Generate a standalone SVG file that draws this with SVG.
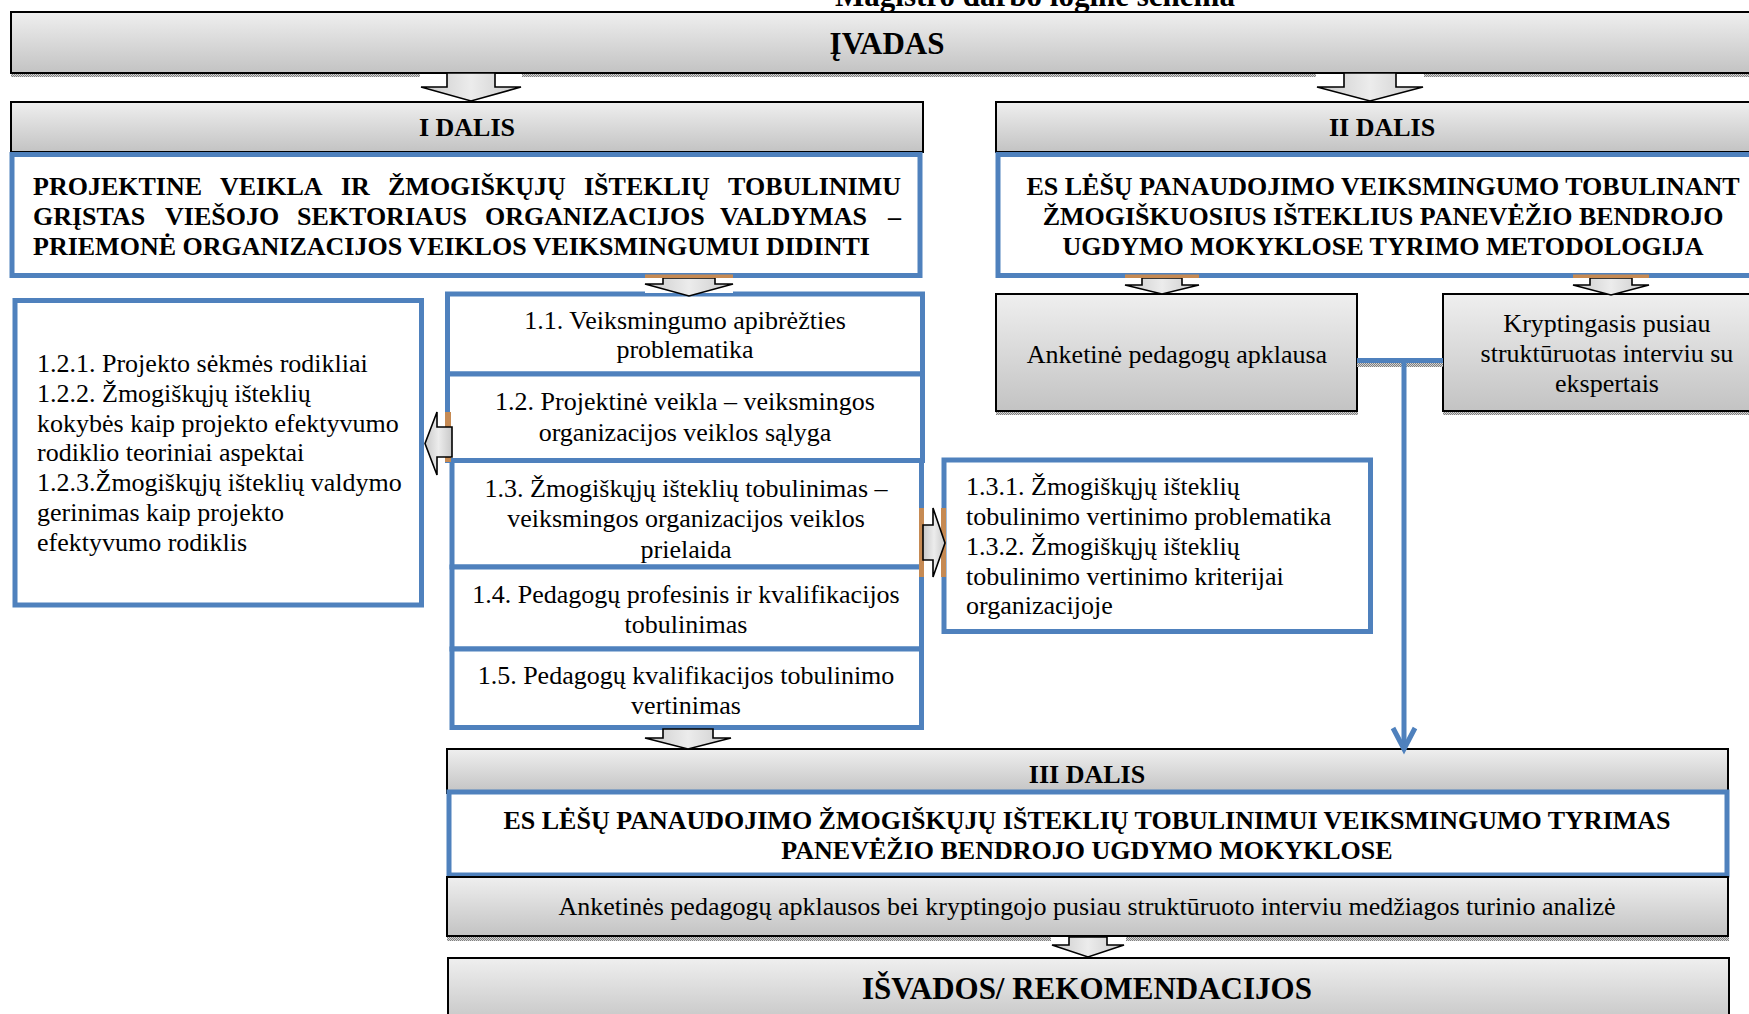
<svg xmlns="http://www.w3.org/2000/svg" width="1749" height="1014" viewBox="0 0 1749 1014">
<style>
.gbox{fill:url(#gg);stroke:#000;stroke-width:2}
.bbox{fill:#fff;stroke:#4F81BD;stroke-width:5}
.shadow{fill:url(#dith)}
.arrow{fill:url(#ag);stroke:#000;stroke-width:1.6;stroke-linejoin:miter}
.orange{fill:#C68A53}
.wbg{fill:#fff}
.t{font-family:"Liberation Serif","Times New Roman",serif;font-size:26px;fill:#000}
.b{font-family:"Liberation Serif","Times New Roman",serif;font-size:26px;font-weight:bold;fill:#000}
.big{font-family:"Liberation Serif","Times New Roman",serif;font-size:31px;font-weight:bold;fill:#000}
.m{text-anchor:middle}
.conn{fill:none;stroke:#4F81BD;stroke-width:5}
</style>
<defs>
<linearGradient id="gg" x1="0" y1="0" x2="0" y2="1">
<stop offset="0" stop-color="#efefef"/>
<stop offset="1" stop-color="#c3c3c3"/>
</linearGradient>
<linearGradient id="ag" x1="0" y1="0" x2="1" y2="0">
<stop offset="0" stop-color="#c9c9c9"/>
<stop offset="0.5" stop-color="#ececec"/>
<stop offset="1" stop-color="#c9c9c9"/>
</linearGradient>
<pattern id="dith" width="2" height="2" patternUnits="userSpaceOnUse">
<rect width="2" height="2" fill="#d4d4d4"/>
<rect width="1" height="1" fill="#808080"/>
<rect x="1" y="1" width="1" height="1" fill="#808080"/>
</pattern>
</defs>
<rect width="1749" height="1014" fill="#fff"/>

<text class="big m" x="1035" y="6">Magistro darbo loginė schema</text>

<g id="ivadas">
<rect class="shadow" x="11" y="73" width="1750" height="4"/>
<rect class="gbox" x="11" y="12" width="1760" height="61"/>
<text class="big m" x="887" y="54">ĮVADAS</text>
</g>

<g id="i-dalis">
<rect class="gbox" x="11" y="102" width="912" height="50"/>
<text class="b m" x="467" y="136">I DALIS</text>
</g>

<g id="ii-dalis">
<rect class="gbox" x="996" y="102" width="780" height="50"/>
<text class="b m" x="1382" y="136">II DALIS</text>
</g>

<g id="i-tema">
<rect class="bbox" x="12" y="154.5" width="908" height="121"/>
<text class="b" y="194.5"><tspan x="33">PROJEKTINE</tspan><tspan x="220">VEIKLA</tspan><tspan x="341">IR</tspan><tspan x="388">ŽMOGIŠKŲJŲ</tspan><tspan x="584">IŠTEKLIŲ</tspan><tspan x="901" text-anchor="end">TOBULINIMU</tspan></text>
<text class="b" y="224.5"><tspan x="33">GRĮSTAS</tspan><tspan x="165">VIEŠOJO</tspan><tspan x="297">SEKTORIAUS</tspan><tspan x="485">ORGANIZACIJOS</tspan><tspan x="720">VALDYMAS</tspan><tspan x="901" text-anchor="end">–</tspan></text>
<text class="b" x="33" y="255">PRIEMONĖ ORGANIZACIJOS VEIKLOS VEIKSMINGUMUI DIDINTI</text>
</g>

<g id="ii-tema">
<rect class="bbox" x="998" y="154.5" width="780" height="121"/>
<text class="b m" x="1383" y="194.5">ES LĖŠŲ PANAUDOJIMO VEIKSMINGUMO TOBULINANT</text>
<text class="b m" x="1383" y="224.5">ŽMOGIŠKUOSIUS IŠTEKLIUS PANEVĖŽIO BENDROJO</text>
<text class="b m" x="1383" y="255">UGDYMO MOKYKLOSE TYRIMO METODOLOGIJA</text>
</g>

<g id="anketine">
<rect class="shadow" x="996" y="411" width="362" height="4"/>
<rect class="gbox" x="996" y="294" width="361" height="117"/>
<text class="t m" x="1177" y="363">Anketinė pedagogų apklausa</text>
</g>

<g id="kryptingasis">
<rect class="shadow" x="1443" y="411" width="320" height="4"/>
<rect class="gbox" x="1443" y="294" width="330" height="117"/>
<text class="t m" x="1607" y="332">Kryptingasis pusiau</text>
<text class="t m" x="1607" y="362">struktūruotas interviu su</text>
<text class="t m" x="1607" y="392">ekspertais</text>
</g>

<g id="box-1-2-x">
<rect class="bbox" x="15" y="300.5" width="406.5" height="304.5"/>
<text class="t" x="37" y="372">1.2.1. Projekto sėkmės rodikliai</text>
<text class="t" x="37" y="402">1.2.2. Žmogiškųjų išteklių</text>
<text class="t" x="37" y="432">kokybės kaip projekto efektyvumo</text>
<text class="t" x="37" y="461">rodiklio teoriniai aspektai</text>
<text class="t" x="37" y="491">1.2.3.Žmogiškųjų išteklių valdymo</text>
<text class="t" x="37" y="521">gerinimas kaip projekto</text>
<text class="t" x="37" y="551">efektyvumo rodiklis</text>
</g>

<g id="box-1-1">
<rect class="bbox" x="447.5" y="294" width="475" height="80"/>
<text class="t m" x="685" y="329">1.1. Veiksmingumo apibrėžties</text>
<text class="t m" x="685" y="358">problematika</text>
</g>

<g id="box-1-2">
<rect class="bbox" x="447.5" y="374" width="475" height="86.5"/>
<text class="t m" x="685" y="410">1.2. Projektinė veikla – veiksmingos</text>
<text class="t m" x="685" y="441">organizacijos veiklos sąlyga</text>
</g>

<g id="box-1-3">
<rect class="bbox" x="452" y="460.5" width="469.5" height="106.5"/>
<text class="t m" x="686" y="497">1.3. Žmogiškųjų išteklių tobulinimas –</text>
<text class="t m" x="686" y="527">veiksmingos organizacijos veiklos</text>
<text class="t m" x="686" y="558">prielaida</text>
</g>

<g id="box-1-4">
<rect class="bbox" x="452" y="567" width="469.5" height="82"/>
<text class="t m" x="686" y="603">1.4. Pedagogų profesinis ir kvalifikacijos</text>
<text class="t m" x="686" y="633">tobulinimas</text>
</g>

<g id="box-1-5">
<rect class="bbox" x="452" y="649" width="469.5" height="78.5"/>
<text class="t m" x="686" y="684">1.5. Pedagogų kvalifikacijos tobulinimo</text>
<text class="t m" x="686" y="714">vertinimas</text>
</g>

<g id="box-1-3-x">
<rect class="bbox" x="944" y="460" width="426.5" height="171.5"/>
<text class="t" x="966" y="495">1.3.1. Žmogiškųjų išteklių</text>
<text class="t" x="966" y="525">tobulinimo vertinimo problematika</text>
<text class="t" x="966" y="555">1.3.2. Žmogiškųjų išteklių</text>
<text class="t" x="966" y="585">tobulinimo vertinimo kriterijai</text>
<text class="t" x="966" y="614">organizacijoje</text>
</g>

<g id="iii-dalis">
<rect class="gbox" x="447" y="749" width="1281" height="44"/>
<text class="b m" x="1087" y="783">III DALIS</text>
</g>

<g id="iii-tema">
<rect class="bbox" x="449" y="792" width="1278" height="83"/>
<text class="b m" x="1087" y="829">ES LĖŠŲ PANAUDOJIMO ŽMOGIŠKŲJŲ IŠTEKLIŲ TOBULINIMUI VEIKSMINGUMO TYRIMAS</text>
<text class="b m" x="1087" y="859">PANEVĖŽIO BENDROJO UGDYMO MOKYKLOSE</text>
</g>

<g id="analize">
<rect class="shadow" x="447" y="936" width="1282" height="5"/>
<rect class="gbox" x="447" y="877" width="1281" height="59"/>
<text class="t m" x="1087" y="915">Anketinės pedagogų apklausos bei kryptingojo pusiau struktūruoto interviu medžiagos turinio analizė</text>
</g>

<g id="isvados">
<rect class="gbox" x="448" y="958" width="1281" height="70"/>
<text class="big m" x="1087" y="999">IŠVADOS/ REKOMENDACIJOS</text>
</g>

<g id="connectors">
<rect class="wbg" x="420" y="74" width="102" height="27"/>
<path class="arrow" d="M447,73 L495,73 L495,87 L521,87 L471,101 L421,87 L447,87 Z"/>
<rect class="wbg" x="1316" y="74" width="108" height="27"/>
<path class="arrow" d="M1344,73 L1396,73 L1396,87 L1423,87 L1370,101 L1317,87 L1344,87 Z"/>

<rect class="wbg" x="645" y="278" width="88" height="15"/>
<path class="arrow" d="M663,278 L715,278 L715,284 L733,284 L689,296 L645,284 L663,284 Z"/>
<rect class="orange" x="645" y="274.5" width="88" height="3.5"/>

<rect class="wbg" x="1125" y="278" width="74" height="15"/>
<path class="arrow" d="M1142,278 L1182,278 L1182,285 L1199,285 L1162,294 L1125,285 L1142,285 Z"/>
<rect class="orange" x="1125" y="274.5" width="74" height="3.5"/>

<rect class="wbg" x="1573" y="278" width="76" height="15"/>
<path class="arrow" d="M1590,278 L1632,278 L1632,285 L1649,285 L1611,295 L1573,285 L1590,285 Z"/>
<rect class="orange" x="1573" y="274.5" width="76" height="3.5"/>

<rect class="orange" x="445" y="412" width="6" height="50"/>
<path class="arrow" d="M452,427 L437,427 L437,412 L425,443.5 L437,475 L437,457 L452,457 Z"/>

<rect class="orange" x="919" y="508" width="5" height="69"/>
<rect class="orange" x="941" y="508" width="5" height="69"/>
<path class="arrow" d="M923,525 L933,525 L933,508 L945,543 L933,577 L933,560 L923,560 Z"/>

<rect class="wbg" x="644" y="730" width="88" height="18"/>
<path class="arrow" d="M663,729 L713,729 L713,738 L731,738 L688,749 L645,738 L663,738 Z"/>

<rect class="wbg" x="1051" y="937" width="75" height="20"/>
<path class="arrow" d="M1069,937 L1107,937 L1107,945 L1124,945 L1088,957 L1052,945 L1069,945 Z"/>

<rect class="shadow" x="1357" y="363" width="86" height="4"/>
<line class="conn" x1="1357" y1="360.5" x2="1443" y2="360.5"/>
<line class="conn" x1="1404" y1="360.5" x2="1404" y2="748"/>
<path class="conn" d="M1393,728 L1404,749 L1415,728" stroke-width="4"/>
</g>
</svg>
